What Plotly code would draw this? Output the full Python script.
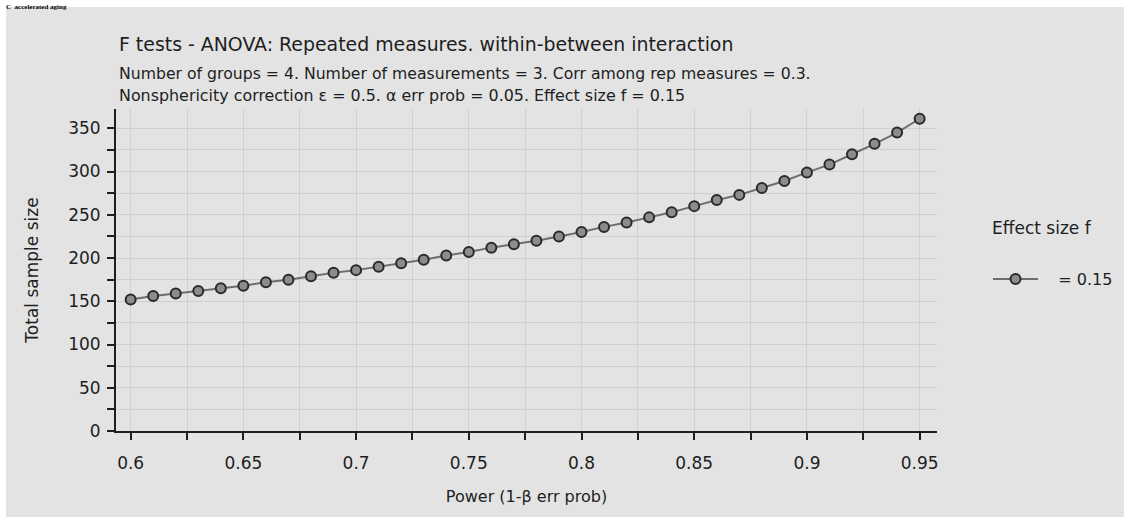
import plotly.graph_objects as go

power = [0.60, 0.61, 0.62, 0.63, 0.64, 0.65, 0.66, 0.67, 0.68, 0.69,
         0.70, 0.71, 0.72, 0.73, 0.74, 0.75, 0.76, 0.77, 0.78, 0.79,
         0.80, 0.81, 0.82, 0.83, 0.84, 0.85, 0.86, 0.87, 0.88, 0.89,
         0.90, 0.91, 0.92, 0.93, 0.94, 0.95]
total_n = [152, 156, 159, 162, 165, 168, 172, 175, 179, 183,
           186, 190, 194, 198, 203, 207, 212, 216, 220, 225,
           230, 236, 241, 247, 253, 260, 267, 273, 281, 289,
           299, 308, 320, 332, 345, 361]
x_tickvals = [0.6, 0.65, 0.7, 0.75, 0.8, 0.85, 0.9, 0.95]
x_ticktext = ["0.6", "0.65", "0.7", "0.75", "0.8", "0.85", "0.9", "0.95"]
x_minor = [0.625, 0.675, 0.725, 0.775, 0.825, 0.875, 0.925]
y_tickvals = [0, 50, 100, 150, 200, 250, 300, 350]

FONT = "DejaVu Sans"
PANEL = "#e3e3e3"
INK = "#1e1e1e"
GRID = "#d0d0d0"

W, H = 1124, 517
ML, MR, MT, MB = 116, 187, 109, 86
PW, PH = W - ML - MR, H - MT - MB

def px(xpix):
    return (xpix - ML) / PW

def py(ypix):
    return (H - MB - ypix) / PH

fig = go.Figure()
fig.add_trace(go.Scatter(
    x=power, y=total_n, mode="lines+markers",
    name="\u00a0\u00a0\u00a0= 0.15",
    line=dict(color="#6e6e6e", width=2),
    marker=dict(symbol="circle", size=10, color="#8c8c8c",
                line=dict(color="#2a2a2a", width=2)),
))

fig.update_layout(
    width=W, height=H,
    margin=dict(l=ML, r=MR, t=MT, b=MB, pad=0, autoexpand=False),
    paper_bgcolor=PANEL, plot_bgcolor=PANEL,
    font=dict(family=FONT, color=INK, size=15),
    showlegend=True,
    legend=dict(xref="container", yref="container",
                x=988 / W, y=1 - 262 / H, xanchor="left", yanchor="top",
                bgcolor="rgba(0,0,0,0)", itemwidth=45,
                font=dict(family=FONT, size=16, color=INK)),
    shapes=[
        dict(type="rect", xref="paper", yref="paper", layer="below",
             x0=px(0), x1=px(W), y0=py(7), y1=py(0),
             fillcolor="white", line=dict(width=0)),
        dict(type="rect", xref="paper", yref="paper", layer="below",
             x0=px(0), x1=px(6), y0=py(H), y1=py(0),
             fillcolor="white", line=dict(width=0)),
    ],
    annotations=[
        dict(text="<b>C  accelerated aging</b>", xref="paper", yref="paper",
             x=px(4), y=py(0.5), xanchor="left", yanchor="top",
             showarrow=False,
             font=dict(family="Liberation Serif", size=7, color="black")),
        dict(text="F tests - ANOVA: Repeated measures. within-between interaction",
             xref="paper", yref="paper", x=px(117), y=py(44),
             xanchor="left", yanchor="middle", showarrow=False,
             font=dict(family=FONT, size=18.9, color=INK)),
        dict(text="Number of groups = 4. Number of measurements = 3. Corr among rep measures = 0.3.",
             xref="paper", yref="paper", x=px(117), y=py(73),
             xanchor="left", yanchor="middle", showarrow=False,
             font=dict(family=FONT, size=15.7, color=INK)),
        dict(text="Nonsphericity correction ε = 0.5. α err prob = 0.05. Effect size f = 0.15",
             xref="paper", yref="paper", x=px(117), y=py(95),
             xanchor="left", yanchor="middle", showarrow=False,
             font=dict(family=FONT, size=15.9, color=INK)),
        dict(text="Effect size f", xref="paper", yref="paper",
             x=px(990), y=py(228), xanchor="left", yanchor="middle",
             showarrow=False, font=dict(family=FONT, size=17, color=INK)),
    ],
)

fig.update_xaxes(
    range=[0.5935, 0.9577],
    tickvals=x_tickvals, ticktext=x_ticktext,
    ticks="outside", ticklen=7, tickwidth=2, tickcolor=INK,
    ticklabelstandoff=9,
    showline=True, linecolor=INK, linewidth=2,
    showgrid=True, gridcolor=GRID, gridwidth=1,
    zeroline=False,
    minor=dict(tickvals=x_minor,
               ticks="outside", ticklen=7, tickwidth=2, tickcolor=INK,
               showgrid=True, gridcolor=GRID, gridwidth=1),
    tickfont=dict(family=FONT, size=17, color=INK),
    title=dict(text="Power (1-β err prob)", standoff=18,
               font=dict(family=FONT, size=16, color=INK)),
)
fig.update_yaxes(
    range=[0, 372.3],
    tickvals=y_tickvals,
    ticks="outside", ticklen=7, tickwidth=2, tickcolor=INK,
    ticklabelstandoff=3,
    showline=True, linecolor=INK, linewidth=2,
    showgrid=True, gridcolor=GRID, gridwidth=1,
    zeroline=False,
    minor=dict(dtick=25, tick0=0,
               ticks="outside", ticklen=7, tickwidth=2, tickcolor=INK,
               showgrid=True, gridcolor=GRID, gridwidth=1),
    tickfont=dict(family=FONT, size=17, color=INK),
    title=dict(text="Total sample size", standoff=25,
               font=dict(family=FONT, size=17, color=INK)),
)

fig.write_html(
    "out.html",
    config={"displayModeBar": False, "responsive": False},
    post_script=(
        "document.documentElement.style.overflow='hidden';"
        "document.body.style.overflow='hidden';"
        "document.body.style.margin='0';"
        "document.body.style.background='white';"
    ),
)
